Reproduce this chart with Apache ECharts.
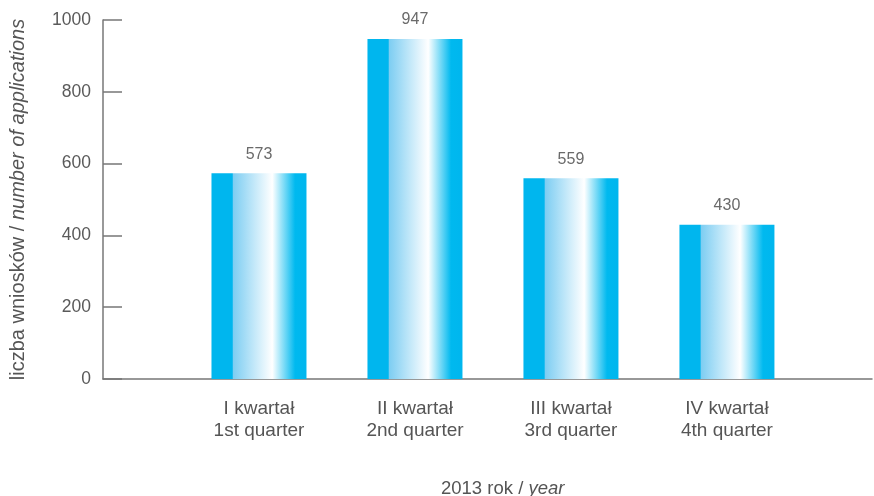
<!DOCTYPE html>
<html><head><meta charset="utf-8">
<script src="https://cdn.jsdelivr.net/npm/echarts@6/dist/echarts.min.js"></script>
<style>html,body{margin:0;padding:0;background:#fff}#c{width:874px;height:496px}</style>
</head><body><div id="c"></div>
<script>
const categories = ['I kwartał\n1st quarter', 'II kwartał\n2nd quarter', 'III kwartał\n3rd quarter', 'IV kwartał\n4th quarter'];
const positions = [1, 2, 3, 4];
const values = [573, 947, 559, 430];
const yTicks = [0, 200, 400, 600, 800, 1000];

const font = 'Liberation Sans, Arial, sans-serif';
const chart = echarts.init(document.getElementById('c'));
const grad = new echarts.graphic.LinearGradient(0, 0, 1, 0, [
  {offset: 0, color: '#00b6ee'},
  {offset: 0.22, color: '#00b6ee'},
  {offset: 0.225, color: '#7ccdf2'},
  {offset: 0.64, color: '#ffffff'},
  {offset: 0.88, color: '#00b9ef'},
  {offset: 1, color: '#00b6ee'}
]);
chart.setOption({
  animation: false,
  title: {
    text: '{n|2013 rok / }{i|year}',
    left: 436, top: 474,
    textStyle: {fontWeight: 'normal', rich: {
      n: {fontFamily: font, fontSize: 18.5, color: '#555', fontWeight: 'normal'},
      i: {fontFamily: font, fontSize: 18.5, color: '#555', fontStyle: 'italic', fontWeight: 'normal'}
    }}
  },
  grid: {left: 103, right: 2, top: 20, bottom: 117, containLabel: false, outerBoundsMode: 'none'},
  xAxis: {
    type: 'value', min: 0, max: 4.93, interval: 1,
    splitLine: {show: false},
    axisLine: {show: true, lineStyle: {color: '#777', width: 1.5}},
    axisTick: {show: false},
    axisLabel: {
      showMaxLabel: false,
      margin: 19, lineHeight: 22,
      fontFamily: font, fontSize: 19, color: '#555',
      formatter: v => { const i = positions.indexOf(v); return i >= 0 ? categories[i] : ''; }
    }
  },
  yAxis: {
    type: 'value', min: 0, max: 1000, interval: 200,
    splitLine: {show: false},
    axisLine: {show: true, lineStyle: {color: '#777', width: 1.5}},
    axisTick: {show: true, inside: true, length: 19, lineStyle: {color: '#777', width: 1.5}},
    axisLabel: {
      margin: 12, fontFamily: font, fontSize: 17.5, color: '#5a5a5a',
      formatter: v => yTicks.includes(v) ? String(v) : ''
    },
    name: '{n|liczba wniosków / }{i|number of applications}',
    nameLocation: 'middle', nameGap: 75, nameRotate: 90,
    nameTextStyle: {rich: {
      n: {fontFamily: font, fontSize: 20, color: '#555'},
      i: {fontFamily: font, fontSize: 20, color: '#555', fontStyle: 'italic'}
    }}
  },
  series: [{
    type: 'bar',
    barWidth: 95,
    data: positions.map((p, i) => [p, values[i]]),
    itemStyle: {color: grad},
    label: {show: true, position: 'top', distance: 11, fontFamily: font, fontSize: 16, color: '#6a6a6a',
      formatter: p => String(p.value[1])}
  }]
});
</script></body></html>
